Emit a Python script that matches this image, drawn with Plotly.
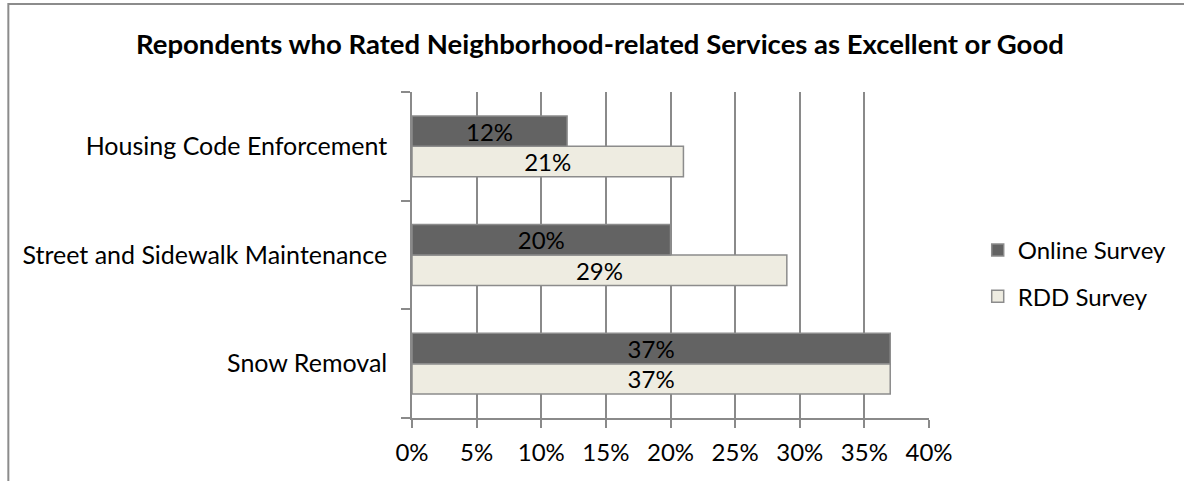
import plotly.graph_objects as go

# Survey results: share rating each service as excellent or good (%)
categories = ["Snow Removal", "Street and Sidewalk Maintenance", "Housing Code Enforcement"]
online_survey = [37, 20, 12]
rdd_survey = [37, 29, 21]
x_ticks = [0, 5, 10, 15, 20, 25, 30, 35, 40]
x_tick_labels = [f"{v}%" for v in x_ticks]

FONT = "Lato"
DARK = "#636363"
LIGHT = "#EEECE1"
EDGE = "#8C8C8C"
GRID = "#8A8A8A"
LABEL_SIZE = 24

fig = go.Figure()

# RDD added first so that, within each group, it sits below the online bar
fig.add_trace(go.Bar(
    name="RDD Survey", y=categories, x=rdd_survey, orientation="h",
    legendgroup="rdd", legendrank=2,
    marker=dict(color=LIGHT, line=dict(color=EDGE, width=1.5)),
    text=[f"{v}%" for v in rdd_survey], textposition="inside",
    insidetextanchor="middle", constraintext="none",
    textfont=dict(family=FONT, size=LABEL_SIZE, color="#000000"),
))
fig.add_trace(go.Bar(
    name="Online Survey", y=categories, x=online_survey, orientation="h",
    legendgroup="online", legendrank=1,
    marker=dict(color=DARK, line=dict(color=EDGE, width=1.5)),
    text=[f"{v}%" for v in online_survey], textposition="inside",
    insidetextanchor="middle", constraintext="none",
    textfont=dict(family=FONT, size=LABEL_SIZE, color="#000000"),
))

W, H = 1184, 481
L, R, T, B = 412, 932, 92, 418
pw, ph = R - L, B - T


def px(xp):
    return (xp - L) / pw


def py(yp):
    return (B - yp) / ph


fig.update_layout(
    width=W, height=H,
    margin=dict(l=L, r=W - R, t=T, b=H - B, pad=0),
    paper_bgcolor="white", plot_bgcolor="white",
    barmode="group", bargap=0.44, bargroupgap=0,
    font=dict(family=FONT, size=LABEL_SIZE, color="#000000"),
    title=dict(
        text="<b>Repondents who Rated Neighborhood-related Services as Excellent or Good</b>",
        x=px(601), xref="paper", xanchor="center",
        y=1 - 44 / H, yref="container", yanchor="middle",
        font=dict(family=FONT, size=27.5, color="#000000"),
    ),
    legend=dict(
        traceorder="grouped",
        x=px(981), y=py(228), xanchor="left", yanchor="top",
        font=dict(family=FONT, size=LABEL_SIZE, color="#000000"),
        itemwidth=30, tracegroupgap=12,
        bgcolor="rgba(0,0,0,0)",
    ),
    xaxis=dict(
        range=[0, 40], tickvals=x_ticks, ticktext=x_tick_labels,
        showgrid=True, gridcolor=GRID, gridwidth=1.5,
        zeroline=False, showline=True, linecolor=GRID, linewidth=1.5,
        ticks="outside", ticklen=8, tickcolor=GRID, tickwidth=1.5,
        ticklabelstandoff=4,
        tickfont=dict(family=FONT, size=LABEL_SIZE, color="#000000"),
        fixedrange=True,
    ),
    yaxis=dict(
        showgrid=False, zeroline=False, showline=True, linecolor=GRID, linewidth=1.5,
        ticks="outside", ticklen=9, tickcolor=GRID, tickwidth=1.5,
        tickson="boundaries", ticklabelstandoff=18,
        tickfont=dict(family=FONT, size=25, color="#000000"),
        fixedrange=True,
    ),
    shapes=[dict(
        type="rect", xref="paper", yref="paper",
        x0=px(6), y0=py(600), x1=px(1400), y1=py(4),
        line=dict(color=EDGE, width=2), fillcolor="rgba(0,0,0,0)", layer="below",
    )],
    showlegend=True,
)

fig.write_html("out.html", config=dict(displayModeBar=False))
